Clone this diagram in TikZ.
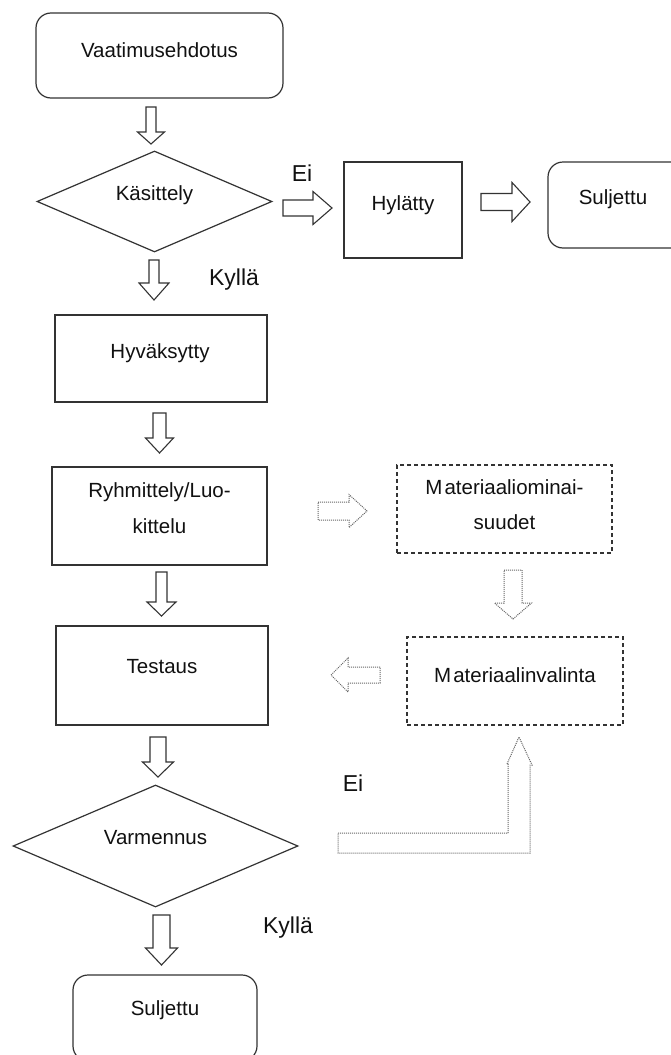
\documentclass[tikz,border=0pt]{standalone}
\usepackage{fontspec}
\setmainfont{Liberation Sans}
\usetikzlibrary{shapes.geometric}
\definecolor{lc}{HTML}{333333}
\definecolor{tc}{HTML}{111111}
% vertical block arrow: x, y top, y head start, y tip, half shaft, half head, style
\newcommand\dnarrow[7]{\draw[#7] ({#1-#5},#2) -- ({#1+#5},#2) -- ({#1+#5},#3) -- ({#1+#6},#3) -- (#1,#4) -- ({#1-#6},#3) -- ({#1-#5},#3) -- cycle;}
% horizontal block arrow: y, x start, x head start, x tip, half shaft, half head, style
\newcommand\rtarrow[7]{\draw[#7] (#2,{#1-#5}) -- (#3,{#1-#5}) -- (#3,{#1-#6}) -- (#4,#1) -- (#3,{#1+#6}) -- (#3,{#1+#5}) -- (#2,{#1+#5}) -- cycle;}
\tikzset{
  shp/.style={draw=lc, line width=1.2pt, inner sep=0pt},
  box/.style={shp, rectangle},
  rbox/.style={shp, rectangle, rounded corners=15pt},
  dbox/.style={shp, rectangle, dash pattern=on 4pt off 3pt},
  dia/.style={shp, diamond},
  txt/.style={text=tc, font=\fontsize{20.5}{36}\selectfont, align=center, inner sep=0pt},
  lab/.style={text=tc, font=\fontsize{23}{27}\selectfont, inner sep=0pt},
  solidarrow/.style={draw=lc, line width=1.1pt, fill=white},
  dotarrow/.style={draw=black!60, line width=1pt, dash pattern=on 1pt off 1pt, fill=white},
}
\begin{document}
\begin{tikzpicture}[x=1pt,y=-1pt]
\useasboundingbox (0,0) rectangle (671,1055);
\clip (0,0) rectangle (671,1055);
\fill[white] (0,0) rectangle (671,1055);

% shapes
\node[rbox, minimum width=247pt, minimum height=85pt] (vaat) at (159.5,55.5) {};
\node[dia, minimum width=235pt, minimum height=101pt] (kas) at (154.5,201.5) {};
\node[box, minimum width=118pt, minimum height=96pt] (hyl) at (403,210) {};
\node[rbox, minimum width=150pt, minimum height=86pt] (sul1) at (623,205) {};
\node[box, minimum width=212pt, minimum height=87pt] (hyv) at (161,358.5) {};
\node[box, minimum width=215pt, minimum height=98pt] (ryh) at (159.5,516) {};
\node[box, minimum width=212pt, minimum height=99pt] (tes) at (162,675.5) {};
\node[dia, minimum width=285pt, minimum height=122pt] (var) at (155.5,846) {};
\node[rbox, minimum width=184pt, minimum height=86pt] (sul2) at (165,1018) {};
\node[dbox, minimum width=215pt, minimum height=88pt] (mo) at (504.5,509) {};
\node[dbox, minimum width=216pt, minimum height=88pt] (mv) at (515,681) {};

% texts
\node[txt] (t1) at ([yshift=5.5pt]vaat.center) {Vaatimusehdotus};
\node[txt] (t2) at ([yshift=6.5pt]kas.center) {Käsittely};
\node[txt] (t3) at ([yshift=5pt]hyl.center) {Hylätty};
\node[txt] (t4) at ([xshift=-10pt,yshift=6pt]sul1.center) {Suljettu};
\node[txt] (t5) at ([xshift=-1pt,yshift=5.5pt]hyv.center) {Hyväksytty};
\node[txt] (t6) at ([yshift=7.5pt]ryh.center) {Ryhmittely/Luo-\\kittelu};
\node[txt] (t7) at ([yshift=8.5pt]tes.center) {Testaus};
\node[txt] (t8) at ([yshift=8pt]var.center) {Varmennus};
\node[txt] (t9) at ([yshift=8pt]sul2.center) {Suljettu};
\node[txt, font=\fontsize{20.5}{35}\selectfont] (t10) at ([yshift=4.5pt]mo.center) {M\kern2pt ateriaaliominai-\\suudet};
\node[txt] (t11) at ([yshift=6pt]mv.center) {M\kern2pt ateriaalinvalinta};

% labels
\node[lab] (ei1) at (302,173) {Ei};
\node[lab] (ky1) at (234,280) {Kyllä};
\node[lab] (ei2) at (353,783) {Ei};
\node[lab] (ky2) at (288,928) {Kyllä};

% solid block arrows
\dnarrow{151}{107}{132}{144}{5}{13.5}{solidarrow}
\dnarrow{154}{260}{283}{300}{5}{15}{solidarrow}
\rtarrow{208}{283}{313}{332}{8}{16.5}{solidarrow}
\rtarrow{202}{481}{512}{530}{8.5}{19.5}{solidarrow}
\dnarrow{159.5}{413}{438}{453}{6.5}{14}{solidarrow}
\dnarrow{161.5}{572}{602}{616}{5.5}{14.5}{solidarrow}
\dnarrow{158}{737}{762}{777}{8}{15.5}{solidarrow}
\dnarrow{161.5}{915}{948}{965}{8.5}{16}{solidarrow}

% dotted block arrows
\rtarrow{511}{318}{349}{367}{9}{16.5}{dotarrow}
\dnarrow{513}{570}{603}{619}{9}{18.5}{dotarrow}
\rtarrow{675}{380}{348}{331}{8}{17}{dotarrow}
\draw[dotarrow] (338,833) -- (508,833) -- (508,764) -- (507,764) -- (519,737) -- (532,765) -- (530,765) -- (530,853) -- (338,853) -- cycle;
\end{tikzpicture}
\end{document}
